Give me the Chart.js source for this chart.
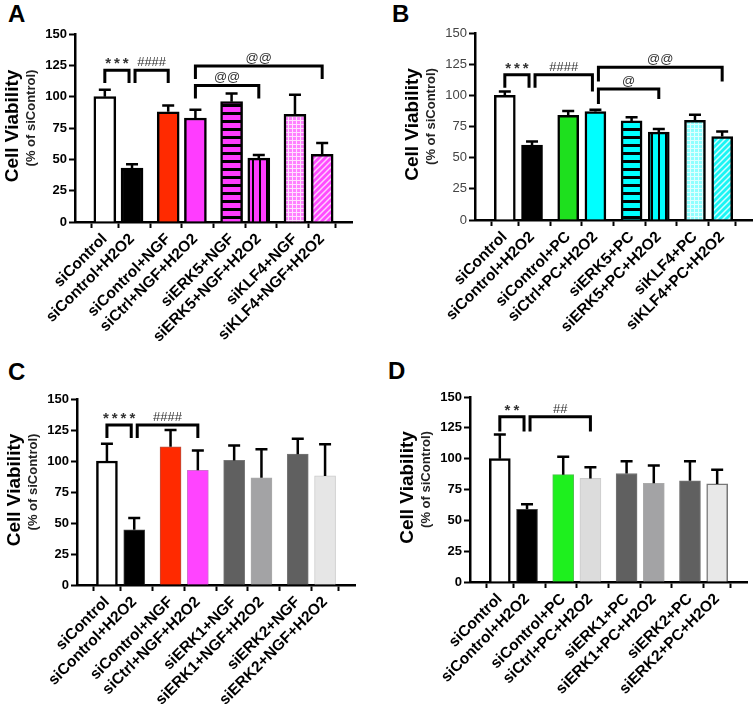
<!DOCTYPE html>
<html>
<head>
<meta charset="utf-8">
<script src="https://cdn.jsdelivr.net/npm/chart.js@4/dist/chart.umd.min.js"></script>
<style>
  body { margin: 0; width: 756px; height: 709px; overflow: hidden; background: #fff; position: relative; font-family: "Liberation Sans", Arial, sans-serif; }
  canvas { position: absolute; }
  .letter { position: absolute; font-weight: bold; font-size: 24px; line-height: 24px; }
</style>
</head>
<body>
<div class="letter" style="left:8px;top:2px">A</div>
<div class="letter" style="left:392px;top:2px">B</div>
<div class="letter" style="left:8px;top:360px">C</div>
<div class="letter" style="left:388px;top:359px">D</div>
<canvas id="chartA" width="378" height="354"></canvas>
<canvas id="chartB" width="378" height="354"></canvas>
<canvas id="chartC" width="378" height="354"></canvas>
<canvas id="chartD" width="378" height="354"></canvas>
<script>
// data per panel
const labelsA = ['siControl', 'siControl+H2O2', 'siControl+NGF', 'siCtrl+NGF+H2O2', 'siERK5+NGF', 'siERK5+NGF+H2O2', 'siKLF4+NGF', 'siKLF4+NGF+H2O2'];
const meanA = [100, 43, 88, 83, 96, 51, 86, 54];
const errA = [5.5, 3, 5, 6.5, 6.5, 2.5, 15.5, 9];

const labelsB = ['siControl', 'siControl+H2O2', 'siControl+PC', 'siCtrl+PC+H2O2', 'siERK5+PC', 'siERK5+PC+H2O2', 'siKLF4+PC', 'siKLF4+PC+H2O2'];
const meanB = [100, 60, 84, 87, 79.5, 70.5, 80, 67];
const errB = [3, 3, 3.5, 1.5, 3, 2.5, 4.5, 4];

const labelsC = ['siControl', 'siControl+H2O2', 'siControl+NGF', 'siCtrl+NGF+H2O2', 'siERK1+NGF', 'siERK1+NGF+H2O2', 'siERK2+NGF', 'siERK2+NGF+H2O2'];
const meanC = [100, 44.5, 111.5, 92.5, 100.5, 86.5, 105.5, 88];
const errC = [14, 9.5, 13.5, 16, 12, 23, 12.5, 25.5];

const labelsD = ['siControl', 'siControl+H2O2', 'siControl+PC', 'siCtrl+PC+H2O2', 'siERK1+PC', 'siERK1+PC+H2O2', 'siERK2+PC', 'siERK2+PC+H2O2'];
const meanD = [100, 59, 87, 84, 88, 80, 82, 79.5];
const errD = [19.5, 4, 14.5, 9, 10, 14.5, 16, 11.5];

// significance brackets: [from bar, to bar, top value, left leg end, right leg end, text]
const bracketsA = [[0, 1, 121, 111, 111, '***'], [1, 2, 121, 111, 111, '####'], [3, 5, 109, 98.5, 98.5, '@@'], [3, 7, 124.5, 114, 114, '@@']];
const bracketsB = [[0, 1, 116.5, 106, 106, '***'], [1, 3, 116.5, 106, 103, '####'], [3, 5, 105, 93, 97, '@'], [3, 7, 122.5, 111, 111, '@@']];
const bracketsC = [[0, 1, 129, 118.5, 118.5, '****'], [1, 3, 129, 118.5, 118.5, '####']];
const bracketsD = [[0, 1, 134, 122, 122, '**'], [1, 3, 134, 122, 122, '##']];

const yTicks = [0, 25, 50, 75, 100, 125, 150];

Chart.defaults.font.family = '"Liberation Sans", Arial, sans-serif';

// bars come in pairs, with a wider gap between pairs
const xPos = i => i + 0.33 * Math.floor(i / 2);

// fill patterns
function pattern(w, h, draw) {
  const c = document.createElement('canvas');
  c.width = w; c.height = h;
  const g = c.getContext('2d');
  draw(g);
  return g.createPattern(c, 'repeat');
}
const hStripes = col => pattern(8, 8, g => { g.fillStyle = col; g.fillRect(0, 0, 8, 8); g.fillStyle = '#000'; g.fillRect(0, 0, 8, 3); });
const vStripes = col => pattern(7, 7, g => { g.fillStyle = col; g.fillRect(0, 0, 7, 7); g.fillStyle = '#000'; g.fillRect(0, 0, 2, 7); });
const grid = (col, line) => pattern(4, 4, g => { g.fillStyle = col; g.fillRect(0, 0, 4, 4); g.fillStyle = line; g.fillRect(0, 0, 4, 1); g.fillRect(0, 0, 1, 4); });
const diag = (col, line) => pattern(6, 6, g => {
  g.fillStyle = col; g.fillRect(0, 0, 6, 6);
  g.strokeStyle = line; g.lineWidth = 1.5;
  g.beginPath(); g.moveTo(0, 6); g.lineTo(6, 0); g.moveTo(-1, 1); g.lineTo(1, -1); g.moveTo(5, 7); g.lineTo(7, 5); g.stroke();
});

// error bars, brackets and y titles
const decor = {
  id: 'decor',
  afterDatasetsDraw(chart) {
    const { ctx } = chart;
    const xs = chart.scales.x, ys = chart.scales.y;
    const o = chart.options.plugins.decor;
    ctx.save();
    ctx.strokeStyle = '#000';
    ctx.lineWidth = 2.5;
    o.means.forEach((m, i) => {
      const x = xs.getPixelForValue(xPos(i));
      const y0 = ys.getPixelForValue(m), y1 = ys.getPixelForValue(m + o.errs[i]);
      ctx.beginPath();
      ctx.moveTo(x, y0); ctx.lineTo(x, y1);
      ctx.moveTo(x - 6, y1); ctx.lineTo(x + 6, y1);
      ctx.stroke();
    });
    ctx.lineWidth = 3;
    ctx.lineJoin = 'miter';
    ctx.textAlign = 'center';
    ctx.textBaseline = 'alphabetic';
    ctx.fillStyle = '#333';
    o.brackets.forEach(([a, b, top, la, lb, text]) => {
      const x1 = xs.getPixelForValue(xPos(a)) + (o.brackets.some(q => q[1] === a) ? 3 : 0);
      const x2 = xs.getPixelForValue(xPos(b)) - (o.brackets.some(q => q[0] === b) ? 3 : 0);
      const yt = ys.getPixelForValue(top);
      ctx.beginPath();
      ctx.moveTo(x1, ys.getPixelForValue(la));
      ctx.lineTo(x1, yt);
      ctx.lineTo(x2, yt);
      ctx.lineTo(x2, ys.getPixelForValue(lb));
      ctx.stroke();
      const star = text.includes('*');
      ctx.font = star ? 'bold 15px "Liberation Sans"' : '13px "Liberation Sans"';
      ctx.letterSpacing = star ? '3px' : '0px';
      ctx.fillText(text, (x1 + x2) / 2 + (star ? 1.5 : 0), yt - (star ? 2 : 4));
    });
    ctx.restore();
  },
  afterDraw(chart) {
    const { ctx, chartArea } = chart;
    const cy = (chartArea.top + chartArea.bottom) / 2;
    ctx.save();
    ctx.textAlign = 'center';
    ctx.textBaseline = 'middle';
    ctx.fillStyle = '#000';
    ctx.translate(chartArea.left - 62, cy - 2);
    ctx.rotate(-Math.PI / 2);
    ctx.font = 'bold 19px "Liberation Sans"';
    ctx.fillText('Cell Viability', 0, 0);
    ctx.restore();
    ctx.save();
    ctx.textAlign = 'center';
    ctx.textBaseline = 'middle';
    ctx.fillStyle = '#222';
    ctx.translate(chartArea.left - 44, cy - 10);
    ctx.rotate(-Math.PI / 2);
    ctx.font = 'bold 13px "Liberation Sans"';
    ctx.fillText('(% of siControl)', 0, 0);
    ctx.restore();
  }
};

function makePanel(id, lay, labels, means, errs, brackets, colors, borders, borderW, barW, tickWeight) {
  const el = document.getElementById(id);
  el.style.left = lay.x + 'px';
  el.style.top = lay.y + 'px';
  const W = el.width, H = el.height;
  return new Chart(el, {
    type: 'bar',
    data: {
      datasets: [{
        data: means.map((v, i) => ({ x: xPos(i), y: v })),
        backgroundColor: colors,
        borderColor: borders,
        borderWidth: borderW,
        barThickness: barW
      }]
    },
    options: {
      responsive: false,
      animation: false,
      devicePixelRatio: 1,
      layout: { padding: { top: lay.T - lay.y, right: lay.x + W - lay.R, left: 0, bottom: 0 } },
      plugins: {
        legend: { display: false },
        tooltip: { enabled: false },
        decor: { means, errs, brackets }
      },
      scales: {
        x: {
          type: 'linear',
          min: -0.46,
          max: 8.45,
          afterBuildTicks: s => { s.ticks = labels.map((_, i) => ({ value: xPos(i) })); },
          afterFit: s => { s.height = lay.y + H - lay.B; },
          grid: { drawOnChartArea: false, tickLength: 6, tickWidth: 2, tickColor: '#000' },
          border: { color: '#000', width: 2.5 },
          ticks: {
            autoSkip: false,
            minRotation: 45,
            maxRotation: 45,
            padding: 2,
            color: '#000',
            font: { size: 15.5, weight: 'bold' },
            callback: (v, i) => labels[i]
          }
        },
        y: {
          min: 0,
          max: 150,
          afterBuildTicks: s => { s.ticks = yTicks.map(v => ({ value: v })); },
          afterFit: s => { s.width = lay.L - lay.x; },
          grid: { drawOnChartArea: false, tickLength: 6, tickWidth: 2, tickColor: '#000' },
          border: { color: '#000', width: 2.5 },
          ticks: {
            padding: 2,
            color: tickWeight === 'bold' ? '#000' : '#444',
            font: { size: 13, weight: tickWeight }
          }
        }
      }
    },
    plugins: [decor]
  });
}

const magenta = '#ff3cff', cyan = '#00ffff';

makePanel('chartA', { x: 0, y: 0, L: 75, T: 34, R: 352, B: 222 }, labelsA, meanA, errA, bracketsA,
  ['#ffffff', '#000000', '#ff2a00', magenta, hStripes(magenta), vStripes(magenta), grid('#ff80ff', '#ffe0ff'), diag('#ff4cff', '#ffd0ff')],
  '#000', 2.5, 22, 'bold');

makePanel('chartB', { x: 378, y: 0, L: 475, T: 33, R: 752, B: 220 }, labelsB, meanB, errB, bracketsB,
  ['#ffffff', '#000000', '#1ee01e', cyan, hStripes(cyan), vStripes(cyan), grid('#8fffff', '#e0ffff'), diag('#1cf4f4', '#d0ffff')],
  '#000', 2.5, 21, 'normal');

makePanel('chartC', { x: 0, y: 355, L: 77, T: 399, R: 355, B: 585 }, labelsC, meanC, errC, bracketsC,
  ['#ffffff', '#000000', '#ff2a00', '#ff44ff', '#606060', '#a3a3a5', '#606060', '#e6e6e6'],
  ['#000', '#444', '#b85040', '#d070d0', '#777', '#aaa', '#777', '#ccc'], [2.5, 1, 1, 1, 1, 1, 1, 1], 21, 'bold');

makePanel('chartD', { x: 378, y: 355, L: 470, T: 397, R: 747, B: 582 }, labelsD, meanD, errD, bracketsD,
  ['#ffffff', '#000000', '#1ef01e', '#dcdcdc', '#606060', '#a3a3a5', '#606060', '#e8e8e8'],
  ['#000', '#444', '#50c050', '#ccc', '#777', '#aaa', '#777', '#777'], [2.5, 1, 1, 1, 1, 1, 1, 1.5], 21, 'bold');
</script>
</body>
</html>
